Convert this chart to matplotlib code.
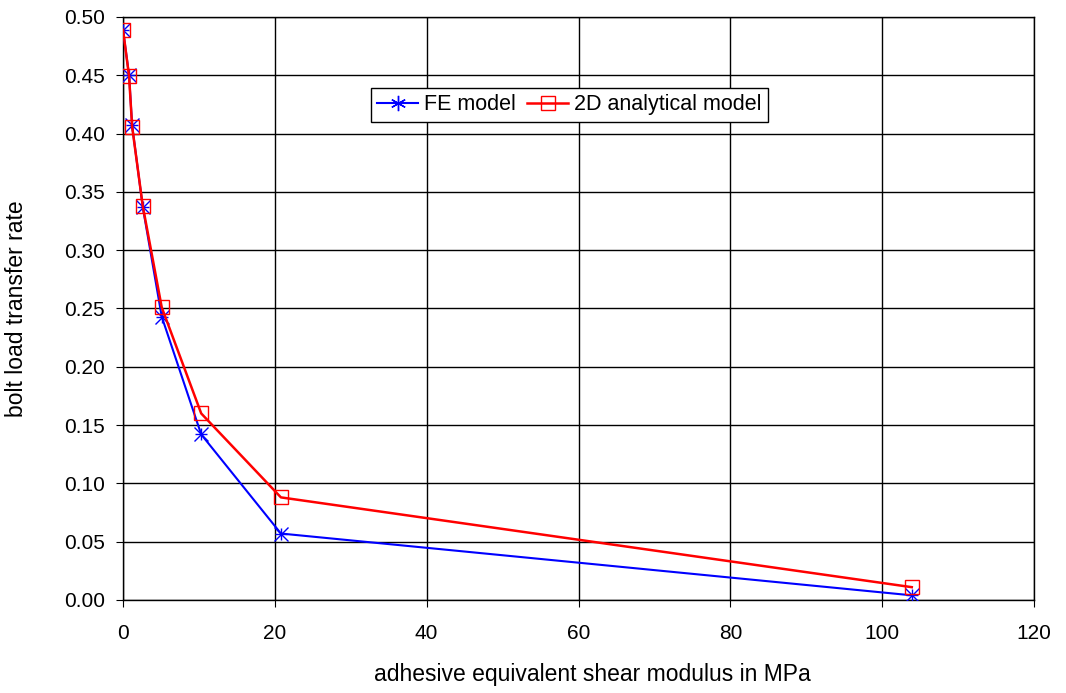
import matplotlib
matplotlib.use("Agg")
import matplotlib.pyplot as plt
from matplotlib.lines import Line2D

plt.rcParams['font.family'] = ['Liberation Sans', 'DejaVu Sans']

# data
g_modulus = [0.0, 0.8, 1.2, 2.6, 5.1, 10.3, 20.8, 103.9]
fe_model = [0.489, 0.450, 0.407, 0.337, 0.243, 0.142, 0.057, 0.004]
analytical_x = [0.0, 0.8, 1.2, 2.6, 5.1, 10.3, 20.8, 103.9]
analytical = [0.489, 0.449, 0.406, 0.338, 0.251, 0.160, 0.088, 0.011]
x_ticks = [0, 20, 40, 60, 80, 100, 120]
y_ticks = [0.00, 0.05, 0.10, 0.15, 0.20, 0.25, 0.30, 0.35, 0.40, 0.45, 0.50]

fig = plt.figure(figsize=(10.66, 6.93), dpi=100)
ax = fig.add_axes([0.1154, 0.1342, 0.8546, 0.8413])

ax.plot(g_modulus, fe_model, color='#0000ff', marker='x', markersize=10,
        markeredgewidth=1.0, linewidth=1.5, label='FE model', zorder=3)
ax.plot(g_modulus, fe_model, color='#0000ff', marker='+', markersize=9,
        markeredgewidth=1.0, linestyle='none', zorder=3)
ax.plot(analytical_x, analytical, color='#ff0000', marker='s', markersize=9.5,
        markerfacecolor='none', markeredgewidth=1.0, linewidth=1.8,
        label='2D analytical model', zorder=4)

ax.set_xlim(0, 120)
ax.set_ylim(0, 0.5)
ax.set_xticks(x_ticks)
ax.set_yticks(y_ticks)
ax.set_yticklabels([f"{v:.2f}" for v in y_ticks])
ax.grid(True, color='black', linewidth=1.0)
ax.set_axisbelow(True)
for s in ax.spines.values():
    s.set_color('black')
    s.set_linewidth(1.0)
ax.tick_params(axis='y', labelsize=15, length=5, color='black', pad=8)
ax.tick_params(axis='x', labelsize=15, length=5, color='black', pad=12)

ax.set_xlabel('adhesive equivalent shear modulus in MPa', fontsize=16.5)
ax.set_ylabel('bolt load transfer rate', fontsize=16.5)
ax.xaxis.set_label_coords(0.515, -0.108)
ax.yaxis.set_label_coords(-0.104, 0.5)

h1 = Line2D([], [], color='#0000ff', marker=(6, 2, 0), markersize=11,
            markeredgewidth=1.0, linewidth=1.5)
h2 = Line2D([], [], color='#ff0000', marker='s', markersize=9.5,
            markerfacecolor='none', markeredgewidth=1.0, linewidth=1.8)
leg = ax.legend([h1, h2], ['FE model', '2D analytical model'], ncol=2,
                loc='lower left', bbox_to_anchor=(0.272, 0.820),
                fontsize=15.5, frameon=True, fancybox=False, framealpha=1,
                edgecolor='black', borderpad=0.3, handlelength=1.9,
                columnspacing=0.55, handletextpad=0.25, borderaxespad=0)
leg.get_frame().set_linewidth(1.0)

fig.savefig('out.png', dpi=100)
